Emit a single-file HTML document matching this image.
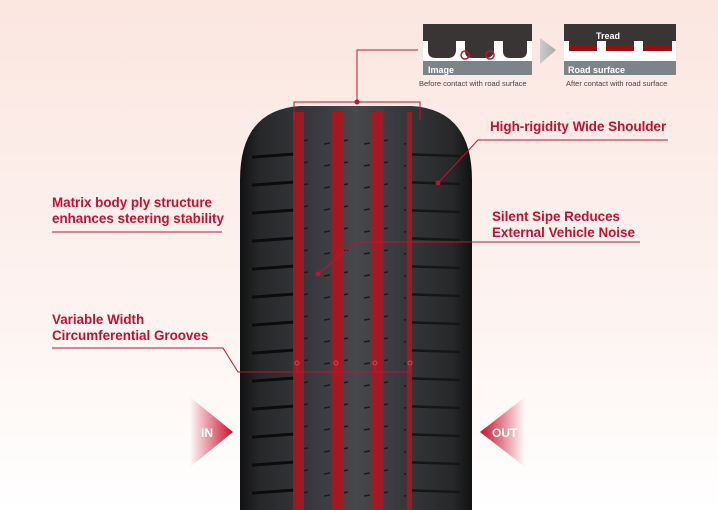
<!DOCTYPE html><html><head><style>
body{margin:0;width:718px;height:510px;overflow:hidden;background:linear-gradient(#fbe6e0,#fdf3f0 60%,#fff);}
svg{display:block}
text{font-family:"Liberation Sans",sans-serif}
</style></head><body>
<svg width="718" height="510" viewBox="0 0 718 510">
<defs>
<linearGradient id="tire" x1="0" x2="1">
<stop offset="0" stop-color="#111"/><stop offset="0.08" stop-color="#262729"/><stop offset="0.5" stop-color="#46484c"/><stop offset="0.92" stop-color="#262729"/><stop offset="1" stop-color="#111"/></linearGradient>
<linearGradient id="inA" x1="0" x2="1"><stop offset="0" stop-color="#c8102e" stop-opacity="0"/><stop offset="1" stop-color="#c8102e"/></linearGradient>
<linearGradient id="outA" x1="1" x2="0"><stop offset="0" stop-color="#c8102e" stop-opacity="0"/><stop offset="1" stop-color="#c8102e"/></linearGradient>
<linearGradient id="arr" x1="0" x2="1"><stop offset="0" stop-color="#ccc"/><stop offset="1" stop-color="#aaa"/></linearGradient>
<pattern id="sipeL" width="80" height="28" patternUnits="userSpaceOnUse" y="120"><path d="M0 10 L55 6" stroke="#0c0c0c" stroke-width="3"/></pattern>
<pattern id="sipeR" width="80" height="28" patternUnits="userSpaceOnUse" y="120"><path d="M0 6 L60 8" stroke="#161616" stroke-width="2.5"/></pattern>
<pattern id="sipeC" width="40" height="22" patternUnits="userSpaceOnUse" y="110"><path d="M4 12 L28 8" stroke="#1a1a1a" stroke-width="1.5"/></pattern>
</defs>
<path d="M240 510 L240 180 Q240 110 300 106 L412 106 Q472 110 472 180 L472 510 Z" fill="url(#tire)"/>
<rect x="252" y="130" width="42" height="380" fill="url(#sipeL)"/>
<rect x="412" y="130" width="50" height="380" fill="url(#sipeR)"/>
<rect x="304" y="130" width="26" height="380" fill="url(#sipeC)"/>
<rect x="344" y="130" width="26" height="380" fill="url(#sipeC)"/>
<rect x="384" y="130" width="22" height="380" fill="url(#sipeC)"/>
<g fill="#b3141c" opacity="0.85">
<rect x="293" y="112" width="11" height="398"/><rect x="332" y="112" width="11" height="398"/><rect x="371" y="112" width="12" height="398"/><rect x="407" y="112" width="5" height="398"/>
</g>
<g stroke="#c8102e" stroke-width="1" fill="none">
<path d="M294 120 V102 H420 V120"/><path d="M357 102 V50 H418"/>
<path d="M668 140 H478 L438 183"/>
<path d="M52 232 H222"/>
<path d="M640 242 H356 L318 274"/>
<path d="M52 348 H223 L238 372 H410"/>
<path d="M297 372v-8M336 372v-8M375 372v-8M410 372v-8"/>
</g>
<g fill="#c8102e"><circle cx="357" cy="102" r="2.5"/><circle cx="438" cy="183" r="2.5"/><circle cx="318" cy="274" r="2.5"/></g>
<g fill="none" stroke="#e04050" stroke-width="1"><circle cx="297" cy="363" r="2"/><circle cx="336" cy="363" r="2"/><circle cx="375" cy="363" r="2"/><circle cx="410" cy="363" r="2"/></g>
<g fill="#c8102e" font-weight="bold" font-size="13.4">
<text x="490" y="131">High-rigidity Wide Shoulder</text>
<text x="52" y="207">Matrix body ply structure</text><text x="52" y="223">enhances steering stability</text>
<text x="492" y="221">Silent Sipe Reduces</text><text x="492" y="237">External Vehicle Noise</text>
<text x="52" y="324">Variable Width</text><text x="52" y="340">Circumferential Grooves</text>
</g>
<path d="M190 397 L233 432 L190 467 Z" fill="url(#inA)"/>
<text x="201" y="437" fill="#fff" font-weight="bold" font-size="12">IN</text>
<path d="M525 397 L480 432 L525 467 Z" fill="url(#outA)"/>
<text x="492" y="437" fill="#fff" font-weight="bold" font-size="12">OUT</text>
<rect x="423" y="24" width="109" height="17" fill="#3a3535"/>
<rect x="423" y="41" width="109" height="20" fill="#fff"/>
<g fill="#3a3535"><path d="M428 41 H456 V51 Q455 58 448 58 H436 Q428 58 428 51Z"/><path d="M465 41 H494 V51 Q493 58 486 58 H472 Q465 58 465 51Z"/><path d="M503 41 H527 V51 Q527 58 520 58 H510 Q503 58 503 51Z"/></g>
<rect x="423" y="61" width="109" height="14" fill="#7d8489"/>
<g fill="none" stroke="#c8102e" stroke-width="1.5"><circle cx="465" cy="55" r="4"/><circle cx="490" cy="55" r="4"/></g>
<text x="428" y="73" fill="#fff" font-weight="bold" font-size="9">Image</text>
<text x="419" y="86" fill="#444" font-size="7.5">Before contact with road surface</text>
<path d="M540 38 L556 50 L540 64 Z" fill="url(#arr)"/>
<rect x="564" y="24" width="112" height="27" fill="#3a3535"/>
<rect x="564" y="51" width="112" height="10" fill="#fff"/>
<g fill="#fff"><rect x="564" y="41" width="5" height="10"/><rect x="597" y="41" width="9" height="10"/><rect x="634" y="41" width="9" height="10"/><rect x="672" y="41" width="4" height="10"/></g>
<g fill="#9a0d10"><rect x="569" y="45" width="28" height="6"/><rect x="606" y="45" width="28" height="6"/><rect x="643" y="45" width="29" height="6"/></g>
<rect x="564" y="61" width="112" height="14" fill="#7d8489"/>
<text x="608" y="39" fill="#fff" font-weight="bold" font-size="9" text-anchor="middle">Tread</text>
<text x="568" y="73" fill="#fff" font-weight="bold" font-size="9">Road surface</text>
<text x="566" y="86" fill="#444" font-size="7.5">After contact with road surface</text>
</svg>
</body></html>
